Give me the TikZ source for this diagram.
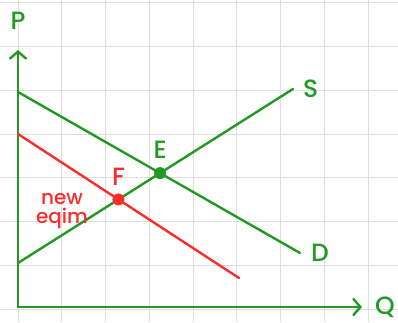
\documentclass[tikz,border=0pt]{standalone}
\usepackage{fontspec}
\setmainfont{Poppins}[BoldFont={Poppins Medium}]
\usetikzlibrary{positioning,arrows.meta,calc}
\definecolor{figgreen}{RGB}{34,153,34}
\definecolor{figred}{RGB}{250,45,45}
\definecolor{figgrid}{gray}{0.87}
\tikzset{
  ln/.style={line width=2.4pt,line cap=round},
  ax/.style={ln,figgreen,-{Straight Barb[length=7pt,width=16pt,line cap=round]}},
  lbl/.style={font=\fontsize{25}{27}\selectfont\bfseries,inner sep=1pt},
  dot/.style={circle,fill,inner sep=0pt,minimum size=12pt},
}

\begin{document}
\begin{tikzpicture}[x=1pt,y=1pt]
\useasboundingbox (0,0) rectangle (398,322);

% grid
\foreach \i in {0,...,8}
  \draw[figgrid,line width=1pt] (18+43.75*\i,0) -- (18+43.75*\i,322);
\foreach \j in {0,...,7}
  \draw[figgrid,line width=1pt] (0,13+43.75*\j) -- (398,13+43.75*\j);

% axes
\coordinate (o) at (18,15);
\coordinate (ytop) at (18,272);
\coordinate (xend) at (362,15);
\draw[ax] (o) -- (ytop);
\draw[ax] (o) -- (xend);
\node[lbl,text=figgreen] (p) at (18,301) {P};
\node[lbl,text=figgreen] (q) at (385,15) {Q};

% curves
\coordinate (d1) at (18,230);
\coordinate (d2) at (300,69);
\coordinate (s1) at (18,59);
\coordinate (s2) at (293,233);
\coordinate (n1) at (18,188);
\coordinate (n2) at (239,44);
\draw[ln,figgreen] (d1) -- (d2);
\draw[ln,figgreen] (s1) -- (s2);
\draw[ln,figred] (n1) -- (n2);
\node[lbl,text=figgreen,right=9pt of s2] (s) {S};
\node[lbl,text=figgreen,right=10pt of d2] (d) {D};

% equilibria
\node[dot,figgreen] (e) at (intersection of d1--d2 and s1--s2) {};
\node[dot,figred] (f) at (intersection of n1--n2 and s1--s2) {};
\node[lbl,text=figgreen,above=7pt of e] (elbl) {E};
\node[lbl,text=figred,above=7pt of f] (flbl) {F};
\node[text=figred,font=\fontsize{20}{19}\selectfont\bfseries,align=center,inner sep=0pt]
  (neq) at (62,111) {new\\eqim};

\end{tikzpicture}
\end{document}
